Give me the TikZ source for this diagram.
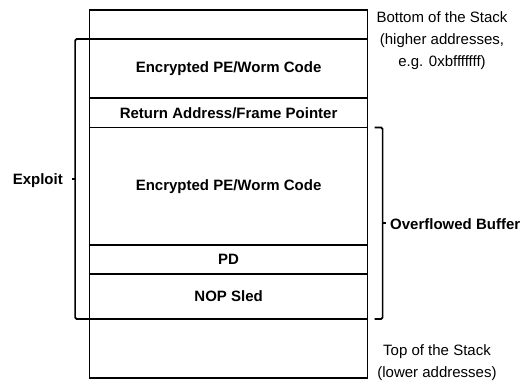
\documentclass[tikz,border=0pt]{standalone}
\usepackage{fontspec}
\setmainfont{Liberation Sans}
\usetikzlibrary{positioning,calc}
\tikzset{
  cell/.style  = {shape=rectangle, draw, line width=1.7pt,
                  minimum width=278pt, inner sep=0pt, outer sep=0pt,
                  font=\fontsize{15}{17}\selectfont\bfseries},
  brkt/.style  = {draw, line width=1.7pt, rounded corners=1.5pt},
  lbl/.style   = {inner sep=0pt, font=\fontsize{15}{17}\selectfont\bfseries},
  note/.style  = {inner sep=0pt, align=center,
                  font=\fontsize{15}{22}\selectfont},
}
\begin{document}
\begin{tikzpicture}[x=1pt, y=-1pt]
    \useasboundingbox (0,0) rectangle (524,383);
    % the stack, from the bottom of the stack (top of page) downwards
    \node [cell, minimum height=29pt] (stackbot) at (228.6,24.5) {};
    \node [cell, minimum height=59pt, below=0pt of stackbot] (code1) {Encrypted PE/Worm Code};
    \node [cell, minimum height=29.5pt, below=0pt of code1] (retaddr) {Return Address/Frame Pointer};
    \node [cell, minimum height=117.5pt, below=0pt of retaddr] (code2) {Encrypted PE/Worm Code};
    \node [cell, minimum height=29pt, below=0pt of code2] (pd) {PD};
    \node [cell, minimum height=45pt, below=0pt of pd] (nop) {NOP Sled};
    \node [cell, minimum height=59pt, below=0pt of nop] (stacktop) {};

    % exploit bracket
    \coordinate (exl) at ([xshift=-14.5pt]code1.north west);
    \draw [brkt] (code1.north west) -- (exl) |- (nop.south west);
    \coordinate (exmid) at ($(exl)!0.5!(exl |- nop.south)$);
    \draw [brkt] (exmid) -- ++(-3,0);
    \node [lbl, anchor=east] (exploit) at (63,181) {Exploit};

    % overflowed buffer bracket
    \coordinate (ofl) at ([xshift=7pt]code2.north east);
    \coordinate (ofr) at ([xshift=15pt]code2.north east);
    \draw [brkt] (ofl) -- (ofr) |- ([xshift=7pt]nop.south east);
    \coordinate (ofmid) at ($(ofr)!0.5!(ofr |- nop.south)$);
    \draw [brkt] (ofmid) -- ++(3,0);
    \node [lbl, anchor=west] (overflow) at (390,224) {Overflowed Buffer};

    % notes
    \node [note] (botnote) at (442,41) {Bottom of the Stack\\(higher addresses,\\e.g. 0xbfffffff)};
    \node [note] (topnote) at (437,363) {Top of the Stack\\(lower addresses)};
\end{tikzpicture}
\end{document}
